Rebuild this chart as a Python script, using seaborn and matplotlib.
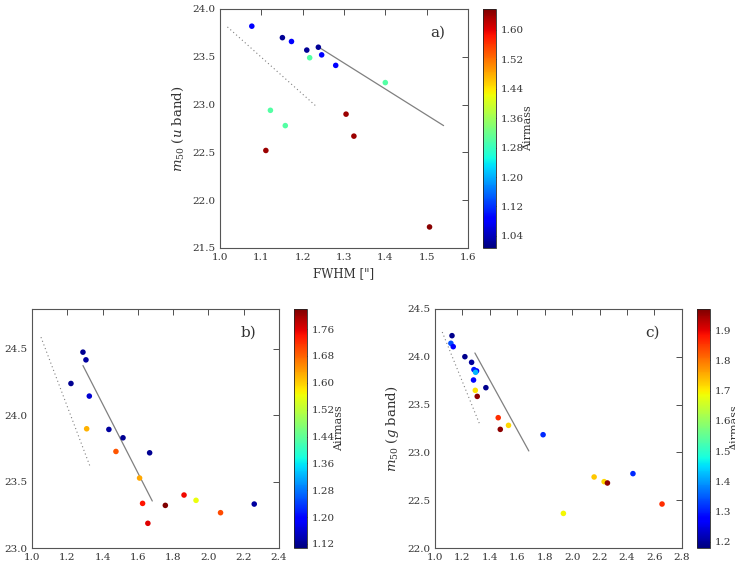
import numpy as np
import pandas as pd
import matplotlib
matplotlib.use("Agg")
import matplotlib.pyplot as plt
import seaborn as sns

# panel a (u band)
fwhm_u = [1.077, 1.151, 1.173, 1.210, 1.238, 1.246, 1.217, 1.280, 1.400, 1.122, 1.158, 1.305, 1.324, 1.111, 1.507]
m50_u = [23.82, 23.70, 23.66, 23.57, 23.60, 23.52, 23.49, 23.41, 23.23, 22.94, 22.78, 22.90, 22.67, 22.52, 21.72]
airmass_u = [1.08, 1.02, 1.08, 1.02, 1.02, 1.08, 1.30, 1.08, 1.30, 1.30, 1.30, 1.64, 1.64, 1.64, 1.65]

# panel b (g band)
fwhm_gb = [1.289, 1.306, 1.221, 1.325, 1.310, 1.436, 1.516, 1.476, 1.667, 1.610, 1.627, 1.657, 1.756, 1.862, 1.930, 2.069, 2.260]
m50_gb = [24.475, 24.417, 24.239, 24.144, 23.898, 23.893, 23.830, 23.727, 23.717, 23.527, 23.336, 23.186, 23.321, 23.399, 23.359, 23.266, 23.331]
airmass_gb = [1.12, 1.13, 1.12, 1.16, 1.62, 1.13, 1.12, 1.69, 1.12, 1.63, 1.74, 1.76, 1.82, 1.75, 1.56, 1.70, 1.13]

# panel c (g band)
fwhm_gc = [1.124, 1.116, 1.133, 1.218, 1.267, 1.284, 1.303, 1.296, 1.281, 1.371, 1.294, 1.308, 1.461, 1.476, 1.536, 1.788, 2.160, 2.233, 2.257, 2.443, 1.936, 2.655]
m50_gc = [24.221, 24.141, 24.106, 24.001, 23.942, 23.866, 23.852, 23.838, 23.757, 23.677, 23.649, 23.586, 23.363, 23.241, 23.283, 23.185, 22.743, 22.694, 22.680, 22.778, 22.362, 22.460]
airmass_gc = [1.19, 1.34, 1.28, 1.19, 1.20, 1.30, 1.28, 1.42, 1.28, 1.19, 1.71, 1.96, 1.86, 1.96, 1.72, 1.31, 1.73, 1.72, 1.96, 1.31, 1.69, 1.86]

# reference lines (solid fit / dotted limit), endpoints
fit_u = ([1.238, 1.541], [23.603, 22.780])
lim_u = ([1.018, 1.231], [23.812, 22.989])
fit_gb = ([1.289, 1.682], [24.374, 23.354])
lim_gb = ([1.051, 1.327], [24.588, 23.622])
fit_gc = ([1.291, 1.684], [24.040, 23.015])
lim_gc = ([1.053, 1.328], [24.259, 23.287])

sns.set_style("white")
plt.rcParams['font.family'] = ['DejaVu Serif']
plt.rcParams['mathtext.fontset'] = 'dejavuserif'
plt.rcParams['text.color'] = '#333333'
plt.rcParams['axes.labelcolor'] = '#333333'
plt.rcParams['xtick.color'] = '#333333'
plt.rcParams['ytick.color'] = '#333333'

jet = matplotlib.colormaps["jet"]
fig = plt.figure(figsize=(7.35, 5.68), dpi=100)


def panel(ax_rect, cb_rect, x, y, am, fit, lim, vmin, vmax, xlim, ylim, xticks, yticks, cticks, ylabel, tag):
    ax = fig.add_axes(ax_rect)
    cax = fig.add_axes(cb_rect)
    df = pd.DataFrame({"fwhm": x, "m50": y, "airmass": am})
    norm = matplotlib.colors.Normalize(vmin=vmin, vmax=vmax)
    sns.scatterplot(data=df, x="fwhm", y="m50", hue="airmass", palette=jet,
                    hue_norm=norm, s=16, linewidth=0, legend=False, ax=ax, zorder=3)
    ax.plot(fit[0], fit[1], color="gray", lw=0.9)
    ax.plot(lim[0], lim[1], color="gray", lw=0.8, ls=(0, (1, 2.5)))
    ax.set_xlim(xlim)
    ax.set_ylim(ylim)
    ax.set_xticks(xticks)
    ax.set_yticks(yticks)
    ax.set_xlabel('FWHM ["]', fontsize=8.5)
    ax.set_ylabel(ylabel, fontsize=9.5)
    ax.tick_params(direction="in", top=True, right=True, labelsize=7.5, length=4, width=0.6)
    for sp in ax.spines.values():
        sp.set_color("#555555")
        sp.set_linewidth(0.8)
    ax.text(0.91, 0.9, tag, transform=ax.transAxes, ha="right", va="center", fontsize=11)

    sm = matplotlib.cm.ScalarMappable(norm=norm, cmap=jet)
    cb = fig.colorbar(sm, cax=cax, ticks=cticks)
    cb.ax.tick_params(labelsize=7.5, direction="in", length=3, width=0.6)
    cb.outline.set_linewidth(0.6)
    cb.set_label("Airmass", fontsize=8, labelpad=-1)
    return ax


panel([0.2993, 0.5634, 0.3374, 0.4208], [0.6571, 0.5634, 0.0177, 0.4208],
      fwhm_u, m50_u, airmass_u, fit_u, lim_u, 1.007, 1.657,
      (1.0, 1.6), (21.5, 24.0), np.arange(1.0, 1.61, 0.1), np.arange(21.5, 24.01, 0.5),
      np.arange(1.04, 1.61, 0.08), r"$m_{50}$ ($u$ band)", "a)")

panel([0.0435, 0.0352, 0.336, 0.4208], [0.4, 0.0352, 0.0177, 0.4208],
      fwhm_gb, m50_gb, airmass_gb, fit_gb, lim_gb, 1.108, 1.82,
      (1.0, 2.4), (23.0, 24.8), np.arange(1.0, 2.41, 0.2), np.arange(23.0, 24.51, 0.5),
      np.arange(1.12, 1.77, 0.08), r"$m_{50}$ ($g$ band)", "b)")

panel([0.5918, 0.0352, 0.336, 0.4208], [0.9483, 0.0352, 0.0177, 0.4208],
      fwhm_gc, m50_gc, airmass_gc, fit_gc, lim_gc, 1.18, 1.97,
      (1.0, 2.8), (22.0, 24.5), np.arange(1.0, 2.81, 0.2), np.arange(22.0, 24.51, 0.5),
      np.arange(1.2, 1.91, 0.1), r"$m_{50}$ ($g$ band)", "c)")

fig.savefig("out.png", dpi=100)
